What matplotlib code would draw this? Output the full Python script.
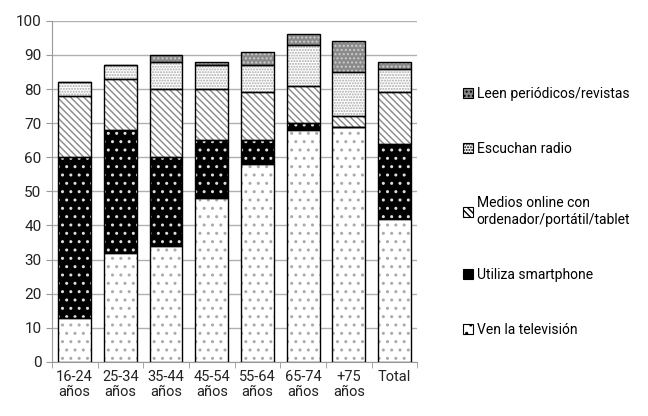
import matplotlib
matplotlib.use("Agg")
import matplotlib.pyplot as plt
import numpy as np
from matplotlib.patches import Patch

plt.rcParams['font.family'] = ['Roboto', 'DejaVu Sans']

categories = ["16-24\naños", "25-34\naños", "35-44\naños", "45-54\naños",
              "55-64\naños", "65-74\naños", "+75\naños", "Total"]
tv = [13, 32, 34, 48, 58, 68, 69, 42]
smartphone = [47, 36, 26, 17, 7, 2, 0, 22]
online = [18, 15, 20, 15, 14, 11, 3, 15]
radio = [4, 4, 8, 7, 8, 12, 13, 7]
prensa = [0, 0, 2, 1, 4, 3, 9, 2]

series = [
    ("Ven la televisión", tv, "white", "#aaaaaa", ".."),
    ("Utiliza smartphone", smartphone, "black", "#dddddd", ".."),
    ("Medios online con\nordenador/portátil/tablet", online, "white", "#888888", "\\\\\\\\\\"),
    ("Escuchan radio", radio, "white", "#aaaaaa", "......"),
    ("Leen periódicos/revistas", prensa, "#8a8a8a", "#cccccc", "...."),
]

fig = plt.figure(figsize=(6.48, 4.16), dpi=100)
ax = fig.add_axes([0.080, 0.130, 0.564, 0.820])
x = np.arange(len(categories))
w = 0.72
bottom = np.zeros(len(categories))
handles = []
for label, vals, fc, hc, hatch in series:
    vals = np.array(vals, dtype=float)
    ax.bar(x, vals, w, bottom=bottom, color=fc, edgecolor=hc, hatch=hatch,
           linewidth=0, zorder=2)
    ax.bar(x, vals, w, bottom=bottom, fill=False, edgecolor="black",
           linewidth=1.0, zorder=3)
    handles.append(Patch(facecolor=fc, edgecolor="black", hatch=hatch, linewidth=0.8, label=label))
    bottom += vals

ax.set_ylim(0, 100)
ax.set_xlim(-0.5, len(categories) - 0.5)
ax.set_yticks(np.arange(0, 101, 10))
ax.yaxis.grid(True, color="#b0b0b0", linewidth=1.0, zorder=0)
ax.set_axisbelow(True)
ax.set_xticks(x)
ax.set_xticklabels(categories, fontsize=10.5, color="#222222", linespacing=1.1)
ax.set_xticks(np.arange(-0.5, len(categories), 1), minor=True)
ax.tick_params(axis='x', which='major', length=0, pad=6)
ax.tick_params(axis='x', which='minor', length=4, color="#999999")
ax.tick_params(axis='y', length=4, color="#999999", labelsize=11, labelcolor="#222222")
for s in ["top", "right"]:
    ax.spines[s].set_visible(False)
for s in ["left", "bottom"]:
    ax.spines[s].set_color("#999999")

leg = fig.legend(handles[::-1], [h.get_label() for h in handles[::-1]],
                 loc="upper left", bbox_to_anchor=(0.695, 0.822),
                 frameon=False, fontsize=10, handlelength=0.7, handleheight=0.7,
                 handletextpad=0.3, labelspacing=2.95)

fig.savefig("out.png", dpi=100)
